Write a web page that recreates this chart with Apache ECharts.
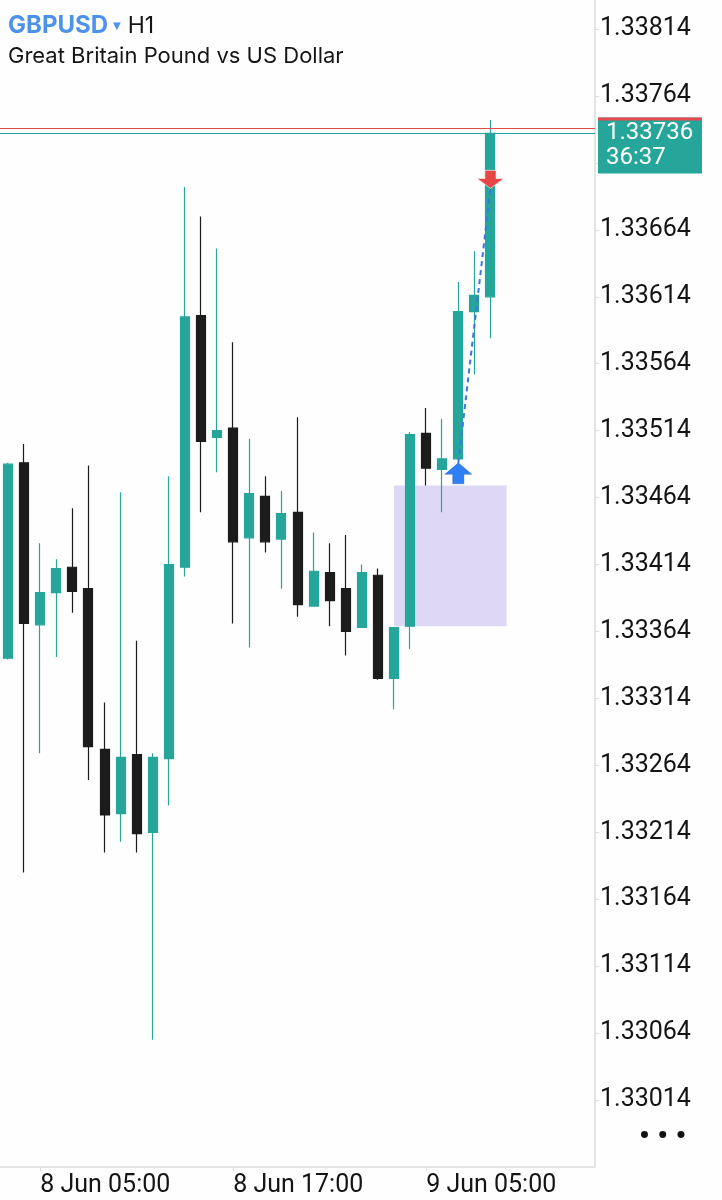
<!DOCTYPE html>
<html>
<head>
<meta charset="utf-8">
<script src="https://cdn.jsdelivr.net/npm/echarts@6/dist/echarts.min.js"></script>
<style>
html,body{margin:0;padding:0;background:#fefefe;}
#chart{width:722px;height:1200px;}
</style>
</head>
<body>
<div id="chart"></div>
<script>
// ---- data (GBPUSD H1) ----
const CATEGORIES = [
  '8 Jun 03:00','8 Jun 04:00','8 Jun 05:00','8 Jun 06:00','8 Jun 07:00','8 Jun 08:00','8 Jun 09:00',
  '8 Jun 10:00','8 Jun 11:00','8 Jun 12:00','8 Jun 13:00','8 Jun 14:00','8 Jun 15:00','8 Jun 16:00',
  '8 Jun 17:00','8 Jun 18:00','8 Jun 19:00','8 Jun 20:00','8 Jun 21:00','8 Jun 22:00','8 Jun 23:00',
  '9 Jun 00:00','9 Jun 01:00','9 Jun 02:00','9 Jun 03:00','9 Jun 04:00','9 Jun 05:00','9 Jun 06:00',
  '9 Jun 07:00','9 Jun 08:00','9 Jun 09:00','9 Jun 10:00','9 Jun 11:00','9 Jun 12:00','9 Jun 13:00',
  '9 Jun 14:00','9 Jun 15:00'
];
const OPEN  = [1.33344,1.33490,1.33369,1.33393,1.33412,1.33396,1.33276,1.33228,1.33272,1.33214,1.33269,1.33412,1.33600,1.33509,1.33516,1.33434,1.33465,1.33433,1.33453,1.33383,1.33408,1.33396,1.33367,1.33406,1.33329,1.33368,1.33512,1.33485,1.33493,1.33603,1.33614];
const HIGH  = [1.33490,1.33504,1.33430,1.33418,1.33456,1.33488,1.33311,1.33468,1.33357,1.33273,1.33480,1.33696,1.33674,1.33650,1.33580,1.33508,1.33480,1.33469,1.33524,1.33438,1.33430,1.33436,1.33414,1.33411,1.33367,1.33513,1.33531,1.33523,1.33625,1.33648,1.33746];
const LOW   = [1.33343,1.33184,1.33273,1.33345,1.33378,1.33253,1.33199,1.33207,1.33199,1.33059,1.33234,1.33405,1.33453,1.33483,1.33370,1.33352,1.33423,1.33396,1.33375,1.33383,1.33368,1.33346,1.33367,1.33328,1.33306,1.33351,1.33473,1.33453,1.33492,1.33556,1.33583];
const CLOSE = [1.33489,1.33370,1.33393,1.33411,1.33394,1.33278,1.33227,1.33270,1.33213,1.33270,1.33414,1.33599,1.33506,1.33514,1.33431,1.33467,1.33431,1.33452,1.33384,1.33409,1.33387,1.33364,1.33408,1.33329,1.33367,1.33511,1.33486,1.33493,1.33603,1.33615,1.33736];
const TIME_LABELS = ['8 Jun 05:00','8 Jun 17:00','9 Jun 05:00'];
const BID = 1.33736;
const ASK = 1.33740;
const BAR_TIMER = '36:37';
const ZONE = { from:'9 Jun 03:00', to:'9 Jun 10:00', top:1.33473, bottom:1.33368 };
const BUY  = { time:'9 Jun 07:00', price:1.33490 };
const SELL = { time:'9 Jun 09:00', price:1.33695 };
const PRICE_BASE = 1.33014;   // first tick label of the price axis
const PRICE_STEP = 50;        // 0.00050 in points
const Y_MIN = -50, Y_MAX = 821.7; // visible price window in points from base

// price <-> points relative to the axis tick base (so ticks land on ...14 / ...64)
const toPts = p => Math.round((p - PRICE_BASE) * 1e6) / 10;
const fromPts = v => (PRICE_BASE + v / 1e5).toFixed(5);

const TEAL = '#26a69a', DARK = '#1c1c1c', RED = '#e84545', BLUE = '#2f7ff7';
const FONT = 'Roboto';

const candleData = OPEN.map((o, i) => [toPts(o), toPts(CLOSE[i]), toPts(LOW[i]), toPts(HIGH[i])]);
const labelIdx = TIME_LABELS.map(t => CATEGORIES.indexOf(t));
const showAt = idx => labelIdx.indexOf(idx) >= 0;

const chart = echarts.init(document.getElementById('chart'), null, {renderer:'canvas'});
chart.setOption({
  backgroundColor: '#fefefe',
  animation: false,
  title: [
    {
      left: 3, top: 9, padding: 5,
      text: '{a|GBPUSD} {b|▼} {c|H1}',
      textStyle: {
        rich: {
          a: {fontFamily:'Inter', fontSize:24, fontWeight:'bold', color:'#4d92ea'},
          b: {fontFamily:'DejaVu Sans', fontSize:10, color:'#4d92ea', verticalAlign:'middle', padding:[0,2,0,0]},
          c: {fontFamily:'Inter', fontSize:23, fontWeight:'normal', color:'#151515'}
        }
      }
    },
    {
      left: 3, top: 40, padding: 5,
      text: 'Great Britain Pound vs US Dollar',
      textStyle: {fontFamily:'Inter', fontSize:22, fontWeight:'normal', color:'#151515'}
    },
    {
      left: 634, top: 1117, padding: 5,
      text: '• • •',
      textStyle: {fontFamily:FONT, fontSize:30, fontWeight:'bold', color:'#111'}
    }
  ],
  grid: {left:-1, right:127, top:0, bottom:33, containLabel:false},
  xAxis: {
    type: 'category',
    data: CATEGORIES,
    boundaryGap: true,
    axisLine: {show:true, onZero:false, lineStyle:{color:'#e4e4e4', width:2}},
    axisTick: {show:true, interval: idx => showAt(idx), alignWithLabel:true, length:4, lineStyle:{color:'#dcdcdc'}},
    axisLabel: {
      interval: idx => showAt(idx),
      align: 'left', margin: 6,
      fontFamily: FONT, fontSize: 25, color: '#141414'
    },
    splitLine: {show:false}
  },
  yAxis: {
    type: 'value',
    position: 'right',
    min: Y_MIN, max: Y_MAX, interval: PRICE_STEP,
    axisLine: {show:true, lineStyle:{color:'#e4e4e4', width:2}},
    axisTick: {show:true, length:4, lineStyle:{color:'#dcdcdc'}},
    axisLabel: {
      formatter: v => fromPts(v),
      showMaxLabel: false,
      showMinLabel: false,
      margin: 5,
      fontFamily: FONT, fontSize: 25, color: '#141414'
    },
    splitLine: {show:false}
  },
  series: [
    {
      type: 'candlestick',
      data: candleData,
      barWidth: 9.5,
      itemStyle: {color:TEAL, color0:DARK, borderColor:TEAL, borderColor0:DARK, borderWidth:1.2},
      markArea: {
        silent: true,
        itemStyle: {color:'rgba(176,160,236,0.40)'},
        data: [[{xAxis: ZONE.from, yAxis: toPts(ZONE.top)}, {xAxis: ZONE.to, yAxis: toPts(ZONE.bottom)}]]
      },
      markLine: {
        silent: true,
        symbol: ['none','none'],
        animation: false,
        data: [
          {yAxis: toPts(ASK), lineStyle:{color:'#e5484d', width:1.2, type:'solid'}, label:{show:false}},
          {
            yAxis: toPts(BID),
            lineStyle: {color:TEAL, width:1.2, type:'solid'},
            label: {
              show: true,
              position: 'end',
              distance: 3,
              formatter: '{r|}\n{p|' + BID.toFixed(5) + '}\n{t|' + BAR_TIMER + '}',
              backgroundColor: TEAL,
              padding: [0,0,3,0],
              align: 'left',
              verticalAlign: 'top',
              offset: [0, -16],
              rich: {
                r: {backgroundColor:'#e5484d', width:104, height:3, lineHeight:3, fontSize:1},
                p: {color:'#fff', fontFamily:FONT, fontSize:24, lineHeight:25, padding:[0,0,0,8]},
                t: {color:'#fff', fontFamily:FONT, fontSize:24, lineHeight:25, padding:[0,0,0,8]}
              }
            }
          }
        ]
      }
    },
    {
      type: 'line',
      data: [[BUY.time, toPts(BUY.price)], [SELL.time, toPts(SELL.price)]],
      symbol: 'none',
      silent: true,
      lineStyle: {color:'#3a78e0', width:2, type:[5,4]},
      z: 5
    },
    {
      type: 'scatter',
      silent: true,
      z: 6,
      symbol: 'path://M12,0 L24,11 L17,11 L17,20 L7,20 L7,11 L0,11 Z',
      symbolSize: [27, 21],
      symbolOffset: [0, 10.5],
      itemStyle: {color:BLUE, opacity:1, borderColor:'rgba(25,70,150,0.5)', borderWidth:0.6},
      data: [[BUY.time, toPts(BUY.price)]]
    },
    {
      type: 'scatter',
      silent: true,
      z: 6,
      symbol: 'path://M7,0 L17,0 L17,9 L24,9 L12,20 L0,9 L7,9 Z',
      symbolSize: [27, 18],
      symbolOffset: [0, -9],
      itemStyle: {color:RED, opacity:1, borderColor:'#ffffff', borderWidth:0.6},
      data: [[SELL.time, toPts(SELL.price)]]
    }
  ]
});
</script>
</body>
</html>
